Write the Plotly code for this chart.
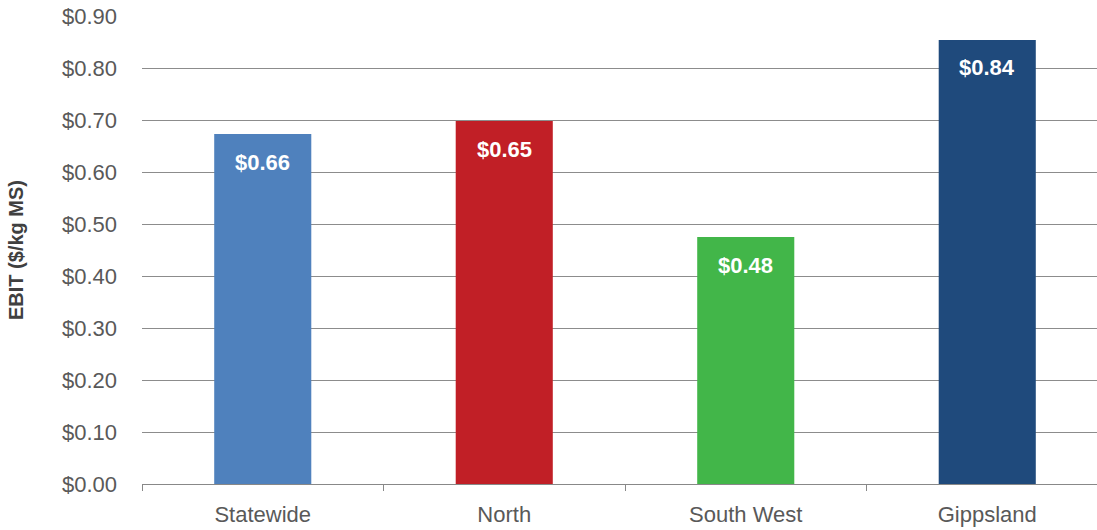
import plotly.graph_objects as go

categories = ["Statewide", "North", "South West", "Gippsland"]
bar_values = [0.673, 0.698, 0.475, 0.854]
label_text = ["$0.66", "$0.65", "$0.48", "$0.84"]
bar_colors = ["#4F81BD", "#C11F26", "#42B649", "#1F4A7C"]
y_ticks = [0.0, 0.1, 0.2, 0.3, 0.4, 0.5, 0.6, 0.7, 0.8, 0.9]
y_tick_labels = ["$%.2f" % v for v in y_ticks]

FONT = "Liberation Sans, Arial, sans-serif"

fig = go.Figure()
fig.add_trace(go.Bar(
    x=categories, y=bar_values, marker=dict(color=bar_colors, line=dict(width=0)),
    width=0.402, hoverinfo="skip",
))

for c, v, t in zip(categories, bar_values, label_text):
    fig.add_annotation(x=c, y=v, text="<b>%s</b>" % t, showarrow=False,
                       yanchor="middle", yshift=-28,
                       font=dict(family=FONT, size=22, color="white"))

fig.update_layout(
    width=1108, height=530,
    margin=dict(l=142, r=0, t=16, b=46, autoexpand=False),
    plot_bgcolor="white", paper_bgcolor="white",
    showlegend=False,
    font=dict(family=FONT, size=22, color="#595959"),
    xaxis=dict(
        showgrid=False, showline=True, linecolor="#888888", linewidth=1,
        ticks="outside", tickson="boundaries", ticklen=6, tickcolor="#888888",
        tickfont=dict(size=22, color="#595959"), ticklabelstandoff=11,
        automargin=False,
    ),
    yaxis=dict(
        range=[0, 0.9], tickvals=y_ticks, ticktext=y_tick_labels,
        showgrid=True, gridcolor="#8C8C8C", gridwidth=1,
        zeroline=False, showline=False, ticks="",
        tickfont=dict(size=22, color="#595959"), ticklabelstandoff=24,
        title=dict(text="<b>EBIT ($/kg MS)</b>", standoff=32,
                   font=dict(size=20, color="#404040")),
        automargin=False,
    ),
    bargap=0.6,
)

fig.write_html(
    "out.html",
    config={"displayModeBar": False},
    post_script="document.body.style.margin='0';document.body.style.overflow='hidden';",
)
